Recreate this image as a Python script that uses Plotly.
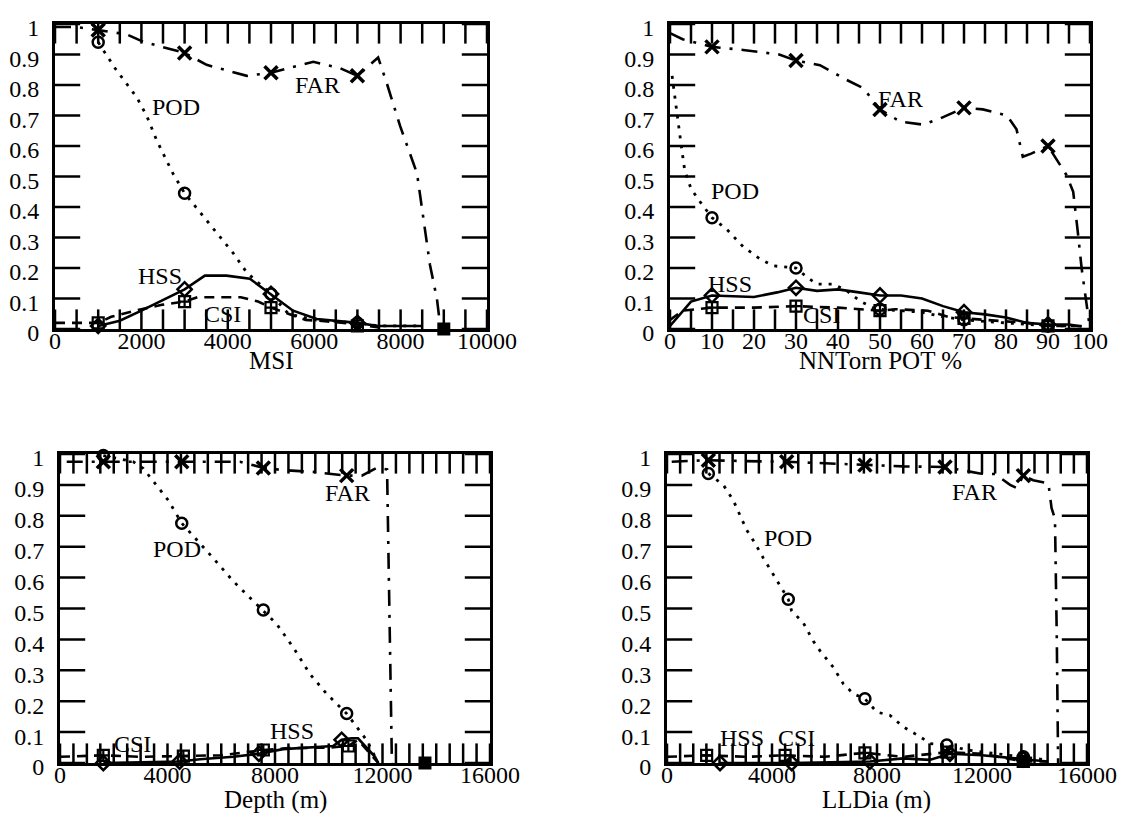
import plotly.graph_objects as go

FONT = "Liberation Serif"

# ---------------- Panel 1 : MSI ----------------
msi_far_x = [0, 500, 1000, 1660, 2040, 3000, 3510, 4440, 5000, 5670, 5980, 6600, 7000, 7480, 7680, 7990, 8380, 8680, 8840, 8900, 9000]
msi_far_y = [0.99, 0.99, 0.98, 0.966, 0.942, 0.905, 0.866, 0.83, 0.84, 0.865, 0.876, 0.855, 0.83, 0.89, 0.806, 0.665, 0.51, 0.21, 0.1, 0.03, 0.0]
msi_pod_x = [1000, 1390, 1890, 2120, 2350, 2730, 3000, 3430, 4120, 4440, 5000, 5400, 6000, 7000, 7500, 8500]
msi_pod_y = [0.94, 0.855, 0.76, 0.70, 0.62, 0.51, 0.445, 0.37, 0.25, 0.185, 0.115, 0.05, 0.03, 0.02, 0.01, 0.01]
msi_hss_x = [1000, 1500, 2000, 2500, 3000, 3470, 3970, 4510, 5000, 5510, 6060, 7000, 7480, 8500]
msi_hss_y = [0.01, 0.027, 0.06, 0.095, 0.13, 0.175, 0.175, 0.165, 0.115, 0.06, 0.033, 0.02, 0.01, 0.01]
msi_csi_x = [0, 1000, 1300, 2000, 2500, 3000, 3300, 4300, 4700, 5000, 5400, 5800, 6300, 7000, 7500]
msi_csi_y = [0.02, 0.02, 0.04, 0.065, 0.08, 0.09, 0.104, 0.104, 0.09, 0.07, 0.05, 0.03, 0.025, 0.015, 0.005]
msi_mk_x = [1000, 3000, 5000, 7000]
msi_mk_far = [0.98, 0.905, 0.84, 0.83]
msi_mk_pod = [0.94, 0.445, 0.115, 0.02]
msi_mk_hss = [0.01, 0.13, 0.115, 0.02]
msi_mk_csi = [0.02, 0.09, 0.07, 0.01]
msi_end_x = [9000]
msi_end_y = [0.0]
msi_range = [0, 10000]
msi_ticks = list(range(0, 10001, 500))
msi_labels = [0, 2000, 4000, 6000, 8000, 10000]

# ---------------- Panel 2 : NNTorn POT % ----------------
nn_far_x = [0, 3, 10, 17.4, 26, 30, 35.7, 42, 46, 50, 54.8, 60.2, 64.3, 70, 74.5, 80.2, 82.5, 84, 86, 90, 94.4, 96, 97, 98, 99.5, 100]
nn_far_y = [0.97, 0.95, 0.925, 0.915, 0.9, 0.88, 0.865, 0.817, 0.79, 0.72, 0.68, 0.67, 0.69, 0.725, 0.72, 0.70, 0.655, 0.565, 0.575, 0.60, 0.505, 0.45, 0.33, 0.2, 0.05, 0.0]
nn_pod_x = [0.5, 1.5, 2.5, 3.5, 5, 7, 10, 13.5, 17.4, 21.4, 24.6, 30, 32.6, 35, 38.9, 42.1, 45.2, 48.3, 50, 55, 60, 65, 70, 80, 90, 97]
nn_pod_y = [0.83, 0.72, 0.62, 0.52, 0.46, 0.42, 0.365, 0.327, 0.27, 0.23, 0.207, 0.2, 0.17, 0.147, 0.147, 0.125, 0.092, 0.07, 0.065, 0.06, 0.055, 0.04, 0.03, 0.02, 0.01, 0.01]
nn_hss_x = [0, 5, 10, 20, 25.5, 30, 35, 40, 45, 50, 55, 60, 65, 70, 75, 80, 85, 90, 95, 98]
nn_hss_y = [0.01, 0.09, 0.11, 0.105, 0.12, 0.135, 0.125, 0.13, 0.12, 0.11, 0.11, 0.1, 0.075, 0.055, 0.048, 0.038, 0.02, 0.015, 0.015, 0.008]
nn_csi_x = [0, 3, 10, 20, 30, 40, 50, 53.6, 61.4, 66.2, 70, 77.4, 85, 90, 98]
nn_csi_y = [0.03, 0.06, 0.07, 0.07, 0.075, 0.07, 0.06, 0.065, 0.06, 0.04, 0.035, 0.027, 0.02, 0.01, 0.01]
nn_mk_x = [10, 30, 50, 70, 90]
nn_mk_far = [0.925, 0.88, 0.72, 0.725, 0.60]
nn_mk_pod = [0.365, 0.2, 0.065, 0.03, 0.01]
nn_mk_hss = [0.11, 0.135, 0.11, 0.055, 0.015]
nn_mk_csi = [0.07, 0.075, 0.06, 0.035, 0.01]
nn_range = [0, 100]
nn_ticks = list(range(0, 101, 5))
nn_labels = [0, 10, 20, 30, 40, 50, 60, 70, 80, 90, 100]

# ---------------- Panel 3 : Depth (m) ----------------
dp_far_x = [250, 1000, 1612, 2500, 3500, 4530, 5460, 6700, 7566, 8300, 9420, 10667, 11230, 11780, 12170, 12350]
dp_far_y = [0.975, 0.975, 0.975, 0.975, 0.975, 0.975, 0.975, 0.975, 0.955, 0.948, 0.942, 0.93, 0.93, 0.955, 0.95, 0.0]
dp_pod_x = [1612, 2730, 3100, 3660, 4030, 4530, 5150, 5700, 6450, 7070, 7566, 8060, 8680, 9300, 9920, 10667, 11040, 11410, 11660, 11830]
dp_pod_y = [0.995, 0.975, 0.953, 0.89, 0.85, 0.776, 0.717, 0.663, 0.588, 0.535, 0.495, 0.45, 0.374, 0.288, 0.224, 0.16, 0.117, 0.074, 0.031, 0.0]
dp_hss_x = [1612, 3000, 4450, 5210, 6450, 7400, 8300, 10160, 10480, 10850, 11090, 11720, 11845]
dp_hss_y = [0.0, 0.003, 0.005, 0.012, 0.02, 0.03, 0.045, 0.055, 0.075, 0.08, 0.08, 0.02, 0.0]
dp_csi_x = [0, 1612, 3000, 4590, 6000, 7566, 8500, 10000, 10730, 11090, 11720, 11845]
dp_csi_y = [0.02, 0.025, 0.02, 0.022, 0.025, 0.042, 0.048, 0.05, 0.055, 0.075, 0.015, 0.0]
dp_mk_x = [1612, 4530, 7566, 10667]
dp_mk_far = [0.975, 0.975, 0.955, 0.93]
dp_mk_pod = [0.995, 0.776, 0.495, 0.16]
dp_hss_mk_x = [1612, 4450, 7400, 10480]
dp_mk_hss = [0.0, 0.005, 0.03, 0.075]
dp_csi_mk_x = [1612, 4590, 7566, 10730]
dp_mk_csi = [0.025, 0.022, 0.042, 0.055]
dp_end_x = [13580]
dp_end_y = [0.0]

# ---------------- Panel 4 : LLDia (m) ----------------
ll_far_x = [180, 1575, 3000, 4560, 6000, 7540, 9000, 10590, 11160, 11920, 12500, 13070, 13320, 13575, 13950, 14530, 14650, 14780, 14850, 14900]
ll_far_y = [0.975, 0.98, 0.977, 0.975, 0.97, 0.964, 0.96, 0.958, 0.948, 0.937, 0.935, 0.90, 0.89, 0.93, 0.915, 0.905, 0.825, 0.79, 0.4, 0.0]
ll_pod_x = [1575, 2145, 2525, 3036, 3350, 3670, 4050, 4370, 4620, 4750, 5190, 5570, 5830, 6335, 6720, 7100, 7540, 7990, 8500, 9000, 9640, 10020, 10660, 11430, 12500, 13575, 14460]
ll_pod_y = [0.937, 0.90, 0.85, 0.754, 0.712, 0.663, 0.61, 0.567, 0.53, 0.492, 0.454, 0.395, 0.363, 0.31, 0.256, 0.224, 0.208, 0.165, 0.154, 0.117, 0.085, 0.063, 0.058, 0.042, 0.03, 0.02, 0.01]
ll_hss_x = [2020, 4750, 7730, 9000, 10000, 10780, 12000, 13575, 14500]
ll_hss_y = [0.0, 0.0, 0.005, 0.015, 0.01, 0.03, 0.025, 0.012, 0.005]
ll_csi_x = [0, 1510, 3000, 4500, 6000, 7540, 9000, 10660, 12000, 13575, 14500]
ll_csi_y = [0.02, 0.025, 0.02, 0.025, 0.02, 0.033, 0.02, 0.035, 0.03, 0.005, 0.005]
ll_mk_x = [1575, 4560, 7540, 10590, 13575]
ll_mk_far = [0.98, 0.975, 0.964, 0.958, 0.93]
ll_pod_mk_x = [1575, 4620, 7540, 10660, 13575]
ll_mk_pod = [0.937, 0.53, 0.208, 0.058, 0.02]
ll_hss_mk_x = [2020, 4750, 7730, 10780, 13575]
ll_mk_hss = [0.0, 0.0, 0.005, 0.03, 0.012]
ll_csi_mk_x = [1510, 4500, 7540, 10660, 13575]
ll_mk_csi = [0.025, 0.025, 0.033, 0.035, 0.005]
ll_end_x = [13575]
ll_end_y = [0.005]

m_range = [0, 16000]
m_ticks = list(range(0, 16001, 500))
m_labels = [0, 4000, 8000, 12000, 16000]

y_range = [0, 1]
y_ticks = [i / 10 for i in range(11)]
y_labels = ["0", "0.1", "0.2", "0.3", "0.4", "0.5", "0.6", "0.7", "0.8", "0.9", "1"]

axis_titles = ["MSI", "NNTorn POT %", "Depth (m)", "LLDia (m)"]

# ---------------- styles ----------------
LINE = {
    "POD": dict(color="black", width=2.8, dash="3px,7px"),
    "FAR": dict(color="black", width=2.6, dash="16px,9px,3px,9px"),
    "HSS": dict(color="black", width=2.6),
    "CSI": dict(color="black", width=2.6, dash="10px,7px"),
}
MARK = {
    "POD": dict(symbol="circle-open", size=11, color="black", line=dict(width=2.5, color="black")),
    "FAR": dict(symbol="x-thin-open", size=13, color="black", line=dict(width=3.5, color="black")),
    "HSS": dict(symbol="diamond-open", size=11, color="black", line=dict(width=2.5, color="black")),
    "CSI": dict(symbol="square-cross-open", size=11, color="black", line=dict(width=2.2, color="black")),
    "END": dict(symbol="square", size=13, color="black"),
}
XTICK_LEN, YTICK_LEN = 14, 18

fig = go.Figure()


def refs(n):
    return ("x%d" % n if n > 1 else "x"), ("y%d" % n if n > 1 else "y")


def add_line(n, name, x, y):
    xr, yr = refs(n)
    fig.add_trace(go.Scatter(x=x, y=y, mode="lines", line=LINE[name], name=name,
                             xaxis=xr, yaxis=yr, showlegend=False, hoverinfo="skip"))


def add_marks(n, name, x, y):
    xr, yr = refs(n)
    fig.add_trace(go.Scatter(x=x, y=y, mode="markers", marker=MARK[name], name=name,
                             xaxis=xr, yaxis=yr, showlegend=False, cliponaxis=False))


def add_inside_ticks(n, xticks, xrng):
    # inside tick marks on all four frame sides: centred line markers, outer half clipped by the plot area
    xr, yr = refs(n)
    fig.add_trace(go.Scatter(x=list(xticks) * 2,
                             y=[y_range[0]] * len(xticks) + [y_range[1]] * len(xticks),
                             mode="markers", xaxis=xr, yaxis=yr, cliponaxis=True,
                             marker=dict(symbol="line-ns", size=2 * XTICK_LEN, line=dict(width=2.5, color="black")),
                             showlegend=False, hoverinfo="skip"))
    fig.add_trace(go.Scatter(x=[xrng[0]] * len(y_ticks) + [xrng[1]] * len(y_ticks),
                             y=y_ticks * 2,
                             mode="markers", xaxis=xr, yaxis=yr, cliponaxis=True,
                             marker=dict(symbol="line-ew", size=2 * YTICK_LEN, line=dict(width=2.5, color="black")),
                             showlegend=False, hoverinfo="skip"))


add_inside_ticks(1, msi_ticks, msi_range)
add_line(1, "FAR", msi_far_x, msi_far_y)
add_line(1, "POD", msi_pod_x, msi_pod_y)
add_line(1, "HSS", msi_hss_x, msi_hss_y)
add_line(1, "CSI", msi_csi_x, msi_csi_y)
add_marks(1, "FAR", msi_mk_x, msi_mk_far)
add_marks(1, "POD", msi_mk_x, msi_mk_pod)
add_marks(1, "HSS", msi_mk_x, msi_mk_hss)
add_marks(1, "CSI", msi_mk_x, msi_mk_csi)
add_marks(1, "END", msi_end_x, msi_end_y)

add_inside_ticks(2, nn_ticks, nn_range)
add_line(2, "FAR", nn_far_x, nn_far_y)
add_line(2, "POD", nn_pod_x, nn_pod_y)
add_line(2, "HSS", nn_hss_x, nn_hss_y)
add_line(2, "CSI", nn_csi_x, nn_csi_y)
add_marks(2, "FAR", nn_mk_x, nn_mk_far)
add_marks(2, "POD", nn_mk_x, nn_mk_pod)
add_marks(2, "HSS", nn_mk_x, nn_mk_hss)
add_marks(2, "CSI", nn_mk_x, nn_mk_csi)

add_inside_ticks(3, m_ticks, m_range)
add_line(3, "FAR", dp_far_x, dp_far_y)
add_line(3, "POD", dp_pod_x, dp_pod_y)
add_line(3, "HSS", dp_hss_x, dp_hss_y)
add_line(3, "CSI", dp_csi_x, dp_csi_y)
add_marks(3, "FAR", dp_mk_x, dp_mk_far)
add_marks(3, "POD", dp_mk_x, dp_mk_pod)
add_marks(3, "HSS", dp_hss_mk_x, dp_mk_hss)
add_marks(3, "CSI", dp_csi_mk_x, dp_mk_csi)
add_marks(3, "END", dp_end_x, dp_end_y)

add_inside_ticks(4, m_ticks, m_range)
add_line(4, "FAR", ll_far_x, ll_far_y)
add_line(4, "POD", ll_pod_x, ll_pod_y)
add_line(4, "HSS", ll_hss_x, ll_hss_y)
add_line(4, "CSI", ll_csi_x, ll_csi_y)
add_marks(4, "FAR", ll_mk_x, ll_mk_far)
add_marks(4, "POD", ll_pod_mk_x, ll_mk_pod)
add_marks(4, "HSS", ll_hss_mk_x, ll_mk_hss)
add_marks(4, "CSI", ll_csi_mk_x, ll_mk_csi)
add_marks(4, "END", ll_end_x, ll_end_y)

# the page body puts the figure 8px in from the top-left corner
OFF = 8
W, H = 1135 - OFF, 818 - OFF


def xdom(a, b):
    return [(a - OFF) / W, (b - OFF) / W]


def ydom(top, bottom):
    return [1 - (bottom - OFF) / H, 1 - (top - OFF) / H]


TICKFONT = dict(family=FONT, size=24, color="black")


def xaxis(dom, anchor, rng, ticks, labels):
    text = [str(t) if t in labels else "" for t in ticks]
    return dict(domain=dom, anchor=anchor, range=rng, tickmode="array",
                tickvals=ticks, ticktext=text, automargin=False,
                showline=True, linewidth=3, linecolor="black", mirror=True, ticks="",
                showgrid=False, zeroline=False, tickfont=TICKFONT, ticklabelstandoff=-12)


def yaxis(dom, anchor):
    return dict(domain=dom, anchor=anchor, range=y_range, tickmode="array",
                tickvals=y_ticks, ticktext=y_labels, automargin=False,
                showline=True, linewidth=3, linecolor="black", mirror=True, ticks="",
                showgrid=False, zeroline=False, tickfont=TICKFONT,
                ticklabelstandoff=8, ticklabelshift=4)


top_y = ydom(24, 329)
bot_y = ydom(454, 763)

fig.update_layout(
    template="none",
    width=W, height=H,
    margin=dict(l=0, r=0, t=0, b=0, autoexpand=False),
    paper_bgcolor="white", plot_bgcolor="white",
    font=dict(family=FONT, size=24, color="black"),
    xaxis=xaxis(xdom(55, 487), "y", msi_range, msi_ticks, msi_labels),
    yaxis=yaxis(top_y, "x"),
    xaxis2=xaxis(xdom(670, 1090), "y2", nn_range, nn_ticks, nn_labels),
    yaxis2=yaxis(top_y, "x2"),
    xaxis3=xaxis(xdom(60, 490), "y3", m_range, m_ticks, m_labels),
    yaxis3=yaxis(bot_y, "x3"),
    xaxis4=xaxis(xdom(667, 1087), "y4", m_range, m_ticks, m_labels),
    yaxis4=yaxis(bot_y, "x4"),
)

title_pos = [(271, 360), (880, 360), (275, 800), (877, 800)]
for t, (px, py) in zip(axis_titles, title_pos):
    fig.add_annotation(x=(px - OFF) / W, y=1 - (py - OFF) / H, xref="paper", yref="paper", text=t,
                       showarrow=False, xanchor="center", yanchor="middle",
                       font=dict(family=FONT, size=25, color="black"))

labels = [
    ("x", "y", 6065, 0.80, "FAR"), ("x", "y", 2800, 0.728, "POD"),
    ("x", "y", 2430, 0.174, "HSS"), ("x", "y", 3866, 0.049, "CSI"),
    ("x2", "y2", 54.8, 0.754, "FAR"), ("x2", "y2", 15.5, 0.452, "POD"),
    ("x2", "y2", 14.3, 0.148, "HSS"), ("x2", "y2", 36, 0.046, "CSI"),
    ("x3", "y3", 10680, 0.874, "FAR"), ("x3", "y3", 4350, 0.693, "POD"),
    ("x3", "y3", 8630, 0.104, "HSS"), ("x3", "y3", 2716, 0.061, "CSI"),
    ("x4", "y4", 11730, 0.877, "FAR"), ("x4", "y4", 4610, 0.728, "POD"),
    ("x4", "y4", 2860, 0.081, "HSS"), ("x4", "y4", 4950, 0.081, "CSI"),
]
for xr, yr, xv, yv, t in labels:
    fig.add_annotation(x=xv, y=yv, xref=xr, yref=yr, text=t, showarrow=False,
                       font=dict(family=FONT, size=24, color="black"))

fig.write_html("out.html")
